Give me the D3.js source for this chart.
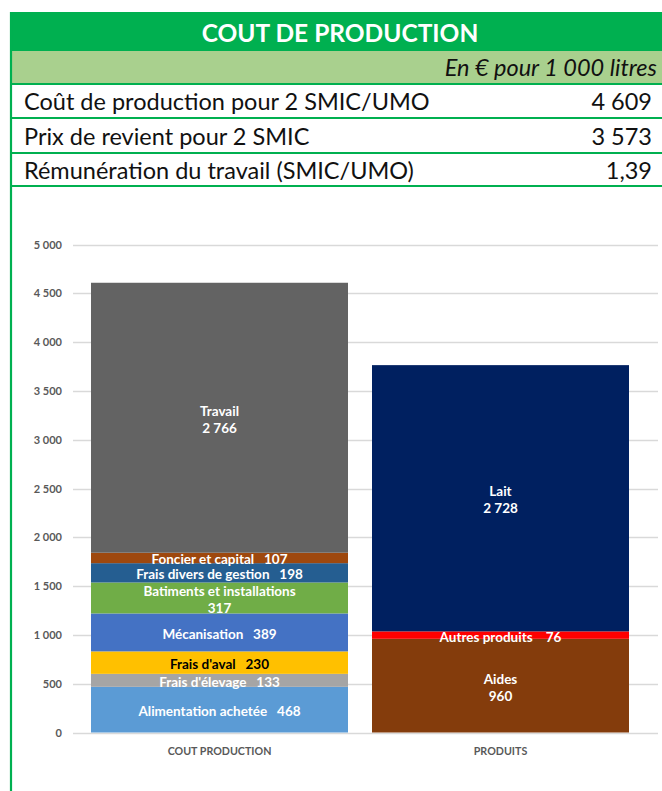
<!DOCTYPE html>
<html>
<head>
<meta charset="utf-8">
<script src="https://cdn.jsdelivr.net/npm/d3@7"></script>
<style>
  html, body { margin: 0; padding: 0; background: #ffffff; }
  svg { display: block; }
  text { white-space: pre; }
</style>
</head>
<body>
<svg id="chart" width="662" height="791"></svg>
<script>
// ---------- DATA ----------
const titleText = "COUT DE PRODUCTION";
const unitText = "En € pour 1 000 litres";
const tableLabels = ["Coût de production pour 2 SMIC/UMO", "Prix de revient pour 2 SMIC", "Rémunération du travail (SMIC/UMO)"];
const tableValues = ["4 609", "3 573", "1,39"];

const categories = ["COUT PRODUCTION", "PRODUITS"];

const costLabels = ["Alimentation achetée", "Frais d'élevage", "Frais d'aval", "Mécanisation", "Batiments et installations", "Frais divers de gestion", "Foncier et capital", "Travail"];
const costValues = [468, 133, 230, 389, 317, 198, 107, 2766];
const costColors = ["#5B9BD5", "#A5A5A5", "#FFC000", "#4472C4", "#70AD47", "#255E91", "#9E480E", "#636363"];

const productLabels = ["Aides", "Autres produits", "Lait"];
const productValues = [960, 76, 2728];
const productColors = ["#843C0C", "#FF0000", "#002060"];

const yTicks = [0, 500, 1000, 1500, 2000, 2500, 3000, 3500, 4000, 4500, 5000];
const twoLineLabels = ["Travail", "Batiments et installations", "Lait", "Aides"];
const darkTextLabels = ["Frais d'aval"];

// ---------- SETUP ----------
const FONT = "Lato, 'Open Sans', sans-serif";
const fr = d3.formatLocale({decimal: ",", thousands: " ", grouping: [3], currency: ["", " €"]});
const fmt = fr.format(",.0f");

const svg = d3.select("#chart");
const green = "#00B050";

// ---------- TABLE ----------
svg.append("rect").attr("x", 10).attr("y", 12).attr("width", 652).attr("height", 39).attr("fill", green);
svg.append("rect").attr("x", 10).attr("y", 51).attr("width", 652).attr("height", 33).attr("fill", "#A9D08E");

svg.append("text").attr("x", 340).attr("y", 32)
  .attr("text-anchor", "middle").attr("dominant-baseline", "central")
  .attr("font-family", FONT).attr("font-weight", "bold").attr("font-size", 24.5)
  .attr("fill", "#ffffff").text(titleText);

svg.append("text").attr("x", 657).attr("y", 67)
  .attr("text-anchor", "end").attr("dominant-baseline", "central")
  .attr("font-family", FONT).attr("font-style", "italic").attr("font-size", 23.5)
  .attr("fill", "#111111").text(unitText);

const rowY = [101, 135.5, 169.5];
tableLabels.forEach((lab, i) => {
  svg.append("text").attr("x", 24).attr("y", rowY[i])
    .attr("dominant-baseline", "central")
    .attr("font-family", FONT).attr("font-size", 23.5).attr("fill", "#111111").text(lab);
  svg.append("text").attr("x", 652).attr("y", rowY[i])
    .attr("text-anchor", "end").attr("dominant-baseline", "central")
    .attr("font-family", FONT).attr("font-size", 23.5).attr("fill", "#111111").text(tableValues[i]);
});

[84, 118, 153, 186].forEach(y => {
  svg.append("line").attr("x1", 10).attr("x2", 662).attr("y1", y).attr("y2", y)
    .attr("stroke", green).attr("stroke-width", 2.2);
});
svg.append("line").attr("x1", 11).attr("x2", 11).attr("y1", 12).attr("y2", 791)
  .attr("stroke", green).attr("stroke-width", 2.2);

// ---------- CHART ----------
const y = d3.scaleLinear().domain([0, 5000]).range([732.5, 244.5]);
const x = d3.scaleBand().domain(categories).range([91, 629]).paddingInner(24 / 281).paddingOuter(0);
const gridX0 = 73, gridX1 = 658;

// gridlines
svg.append("g").selectAll("line").data(yTicks).join("line")
  .attr("x1", gridX0).attr("x2", gridX1)
  .attr("y1", d => Math.round(y(d)) + 0.5).attr("y2", d => Math.round(y(d)) + 0.5)
  .attr("stroke", "#D9D9D9").attr("stroke-width", 1.3);

// y axis labels
const yAxis = d3.axisLeft(y).tickValues(yTicks).tickSize(0).tickPadding(0).tickFormat(d => fmt(d));
const gy = svg.append("g").attr("transform", "translate(62,0)").call(yAxis);
gy.select(".domain").remove();
gy.selectAll("text").attr("font-family", FONT).attr("font-weight", "bold").attr("font-size", 11).attr("fill", "#595959");

// stacked bars
function stackSeries(labels, values, colors) {
  let acc = 0;
  return labels.map((l, i) => {
    const s = {label: l, value: values[i], color: colors[i], y0: acc, y1: acc + values[i]};
    acc += values[i];
    return s;
  });
}
const groups = [
  {cat: categories[0], segs: stackSeries(costLabels, costValues, costColors)},
  {cat: categories[1], segs: stackSeries(productLabels, productValues, productColors)}
];

groups.forEach(g => {
  const gg = svg.append("g");
  gg.selectAll("rect").data(g.segs).join("rect")
    .attr("x", x(g.cat)).attr("width", x.bandwidth())
    .attr("y", d => y(d.y1)).attr("height", d => y(d.y0) - y(d.y1))
    .attr("fill", d => d.color);

  g.segs.forEach(d => {
    const cx = x(g.cat) + x.bandwidth() / 2;
    const cy = (y(d.y0) + y(d.y1)) / 2 + 1.5;
    const col = darkTextLabels.includes(d.label) ? "#000000" : "#ffffff";
    const t = gg.append("text").attr("x", cx).attr("y", cy)
      .attr("text-anchor", "middle").attr("dominant-baseline", "central")
      .attr("font-family", FONT).attr("font-weight", "bold").attr("font-size", 13.5)
      .attr("fill", col);
    if (twoLineLabels.includes(d.label)) {
      t.append("tspan").attr("x", cx).attr("dy", "-0.62em").text(d.label);
      t.append("tspan").attr("x", cx).attr("dy", "1.24em").text(fmt(d.value));
    } else {
      const sep = d.label === "Autres produits" ? "    " : "   ";
      t.text(d.label + sep + fmt(d.value));
    }
  });
});

// x axis labels
const xAxis = d3.axisBottom(x).tickSize(0).tickPadding(0);
const gx = svg.append("g").attr("transform", "translate(0,750)").call(xAxis);
gx.select(".domain").remove();
gx.selectAll("text").attr("font-family", FONT).attr("font-weight", "bold").attr("font-size", 10.7)
  .attr("fill", "#595959").attr("dy", null).attr("dominant-baseline", "central");
</script>
</body>
</html>
